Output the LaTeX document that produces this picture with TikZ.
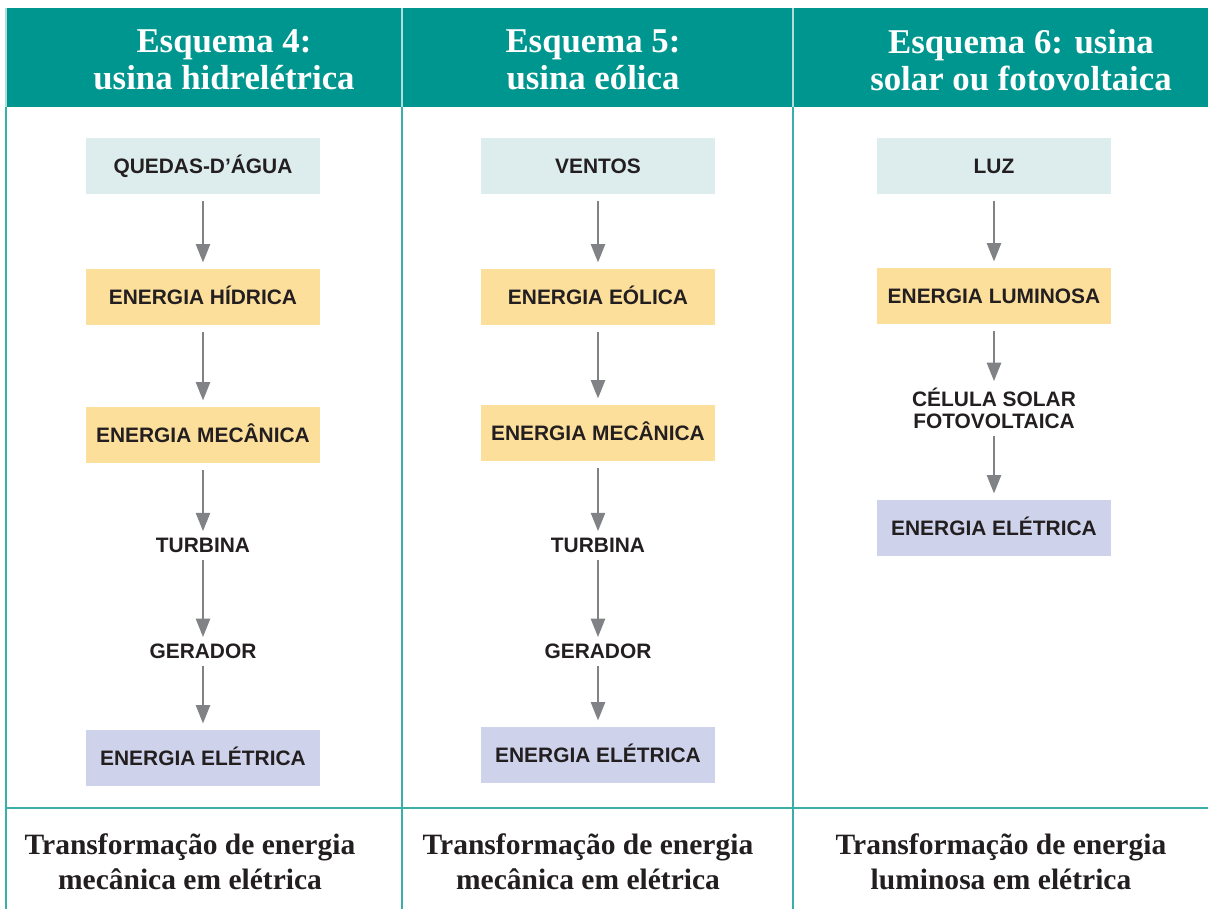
\documentclass[tikz,border=0pt]{standalone}
\usepackage{fontspec}
\setmainfont{Liberation Serif}
\setsansfont{Liberation Sans}
\usetikzlibrary{arrows.meta,positioning}
\definecolor{headteal}{RGB}{0,150,144}
\definecolor{ruleteal}{RGB}{58,175,169}
\definecolor{headrule}{RGB}{176,222,219}
\definecolor{srcfill}{RGB}{221,237,237}
\definecolor{nrgfill}{RGB}{253,223,156}
\definecolor{elefill}{RGB}{206,211,235}
\definecolor{ink}{RGB}{35,31,32}
\definecolor{arrowgray}{RGB}{128,130,133}

\begin{document}
\begin{tikzpicture}[x=0.02cm,y=-0.02cm,
  box/.style={minimum width=4.68cm,minimum height=1.12cm,inner sep=0pt,text=ink,
    font=\sffamily\bfseries\fontsize{11.9}{12.5}\selectfont,text height=8.5pt,text depth=0pt},
  srcbox/.style={box,fill=srcfill},
  nrgbox/.style={box,fill=nrgfill},
  elebox/.style={box,fill=elefill},
  device/.style={inner sep=0pt,text=ink,align=center,
    font=\sffamily\bfseries\fontsize{11.9}{12.5}\selectfont},
  headtext/.style={inner sep=0pt,text=white,align=center,
    font=\bfseries\fontsize{19.8}{21}\selectfont},
  foottext/.style={inner sep=0pt,text=ink,align=center,
    font=\bfseries\fontsize{16.8}{19.8}\selectfont},
  flow/.style={draw=arrowgray,line width=1.4pt,-{Triangle[width=8pt,length=10.5pt]},
    shorten <=4pt,shorten >=3.5pt}]
\useasboundingbox (0,0) rectangle (1208,909);
\fill[headteal] (7,8) rectangle (1208,107);
\foreach \xx in {6,402,793} {
  \draw[headrule,line width=1.1pt] (\xx,8) -- (\xx,107);
  \draw[ruleteal,line width=1.1pt] (\xx,107) -- (\xx,909);
}
\draw[ruleteal,line width=1.1pt] (6,808) -- (1208,808);

\node[headtext] (h1) at (224,60) {Esquema 4:\\usina hidrelétrica};
\node[headtext] (h2) at (593,60) {Esquema 5:\\usina eólica};
\node[headtext] (h3) at (1021,60) {Esquema 6: usina\\solar ou fotovoltaica};

\node[srcbox] (queda) at (203,166) {QUEDAS-D’ÁGUA};
\node[nrgbox] (hidrica) at (203,297) {ENERGIA HÍDRICA};
\node[nrgbox] (mec1) at (203,435) {ENERGIA MECÂNICA};
\node[device] (turb1) at (203,545) {TURBINA};
\node[device] (ger1) at (203,651) {GERADOR};
\node[elebox] (ele1) at (203,758) {ENERGIA ELÉTRICA};
\draw[flow] (queda) -- (hidrica);
\draw[flow] (hidrica) -- (mec1);
\draw[flow] (mec1) -- (turb1);
\draw[flow] (turb1) -- (ger1);
\draw[flow] (ger1) -- (ele1);

\node[srcbox] (vento) at (598,166) {VENTOS};
\node[nrgbox] (eolica) at (598,297) {ENERGIA EÓLICA};
\node[nrgbox] (mec2) at (598,433) {ENERGIA MECÂNICA};
\node[device] (turb2) at (598,545) {TURBINA};
\node[device] (ger2) at (598,651) {GERADOR};
\node[elebox] (ele2) at (598,755) {ENERGIA ELÉTRICA};
\draw[flow] (vento) -- (eolica);
\draw[flow] (eolica) -- (mec2);
\draw[flow] (mec2) -- (turb2);
\draw[flow] (turb2) -- (ger2);
\draw[flow] (ger2) -- (ele2);

\node[srcbox] (luz) at (994,166) {LUZ};
\node[nrgbox] (luminosa) at (994,296) {ENERGIA LUMINOSA};
\node[device] (celula) at (994,408) {CÉLULA SOLAR\\FOTOVOLTAICA};
\node[elebox] (ele3) at (994,528) {ENERGIA ELÉTRICA};
\draw[flow] (luz) -- (luminosa);
\draw[flow] (luminosa) -- (celula);
\draw[flow] (celula) -- (ele3);

\node[foottext] (f1) at (190,862) {Transformação de energia\\mecânica em elétrica};
\node[foottext] (f2) at (588,862) {Transformação de energia\\mecânica em elétrica};
\node[foottext] (f3) at (1001,862) {Transformação de energia\\luminosa em elétrica};
\end{tikzpicture}
\end{document}
